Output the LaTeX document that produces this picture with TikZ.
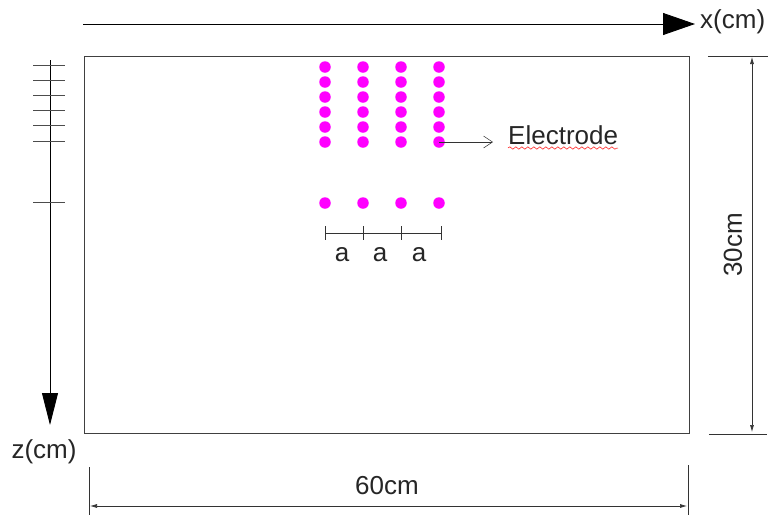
\documentclass[tikz,border=0pt]{standalone}
\usepackage{fontspec}
\setmainfont{Liberation Sans}
\usetikzlibrary{arrows.meta,positioning,calc,decorations.pathmorphing}
\definecolor{electrode}{RGB}{255,0,255}

\begin{document}
\begin{tikzpicture}[x=1pt,y=-1pt]
\tikzset{dot/.style={circle,fill=electrode,inner sep=0pt,minimum size=11.5pt}}
\tikzset{dim/.style={black!80,line width=0.7pt}}
\tikzset{lbl/.style={font=\fontsize{26}{31}\selectfont,text=black!85,inner sep=0pt}}
\useasboundingbox (0,0) rectangle (772,515);

% the domain
\node[draw=black!75,line width=0.9pt,minimum width=605pt,minimum height=377pt,anchor=north west,inner sep=0pt] (domain) at (84,56) {};

% x axis
\coordinate (x0) at (83,24);
\coordinate (x1) at (695,24);
\draw[line width=0.9pt,-{Triangle[length=32pt,width=22pt]}] (x0) -- (x1);
\node[lbl,anchor=west] (xlab) at (700,22) {x(cm)};

% z axis with ticks
\coordinate (z0) at (50,60);
\coordinate (z1) at (50,425);
\draw[line width=0.9pt,-{Triangle[length=32pt,width=16pt]}] (z0) -- (z1);
\foreach \t in {65,80,95,110,125,141,202}
  \draw[black!70,line width=0.8pt] (33,\t) -- (65,\t);
\node[lbl] (zlab) at (44,452) {z(cm)};

% electrodes
\foreach \i/\x in {1/325,2/363,3/401,4/439} {
  \foreach \j/\y in {1/67,2/82,3/97,4/112,5/127,6/142}
    \node[dot] (e\i\j) at (\x,\y) {};
  \node[dot] (b\i) at (\x,203) {};
}
\node[lbl,anchor=base west] (elab) at (508,144) {Electrode};
\coordinate (etip) at (493,142);
\draw[black!80,line width=0.7pt,-{Straight Barb[length=9pt,width=12pt,line width=0.5pt]}] (e46.center) -- (etip);
\draw[red,line width=0.5pt,decorate,decoration={snake,amplitude=1.2pt,segment length=6pt}] ($(elab.base west)+(0,4)$) -- ($(elab.base east)+(0,4)$);

% spacing a
\coordinate (s1) at (325,233);
\coordinate (s4) at (441,233);
\draw[dim] (s1) -- (s4);
\foreach \x in {325,363,401,441}
  \draw[dim] (\x,226) -- (\x,240);
\foreach \x in {342,380,419}
  \node[lbl] at (\x,255) {a};

% 30cm
\draw[dim] ($(domain.north east)+(18,0)$) -- ++(60,0);
\draw[dim] ($(domain.south east)+(19,0)$) -- ++(58,0);
\draw[dim,{Latex[length=7pt,width=4pt]}-{Latex[length=7pt,width=4pt]}] (752,57) -- (752,432);
\node[lbl,rotate=90] (hlab) at (733,245) {30cm};

% 60cm
\draw[dim] (89,467) -- (89,515);
\draw[dim] (688,465) -- (688,515);
\draw[dim,{Latex[length=7pt,width=4pt]}-{Latex[length=7pt,width=4pt]}] (90,506) -- (687,506);
\node[lbl] (wlab) at (387,486) {60cm};
\end{tikzpicture}
\end{document}
